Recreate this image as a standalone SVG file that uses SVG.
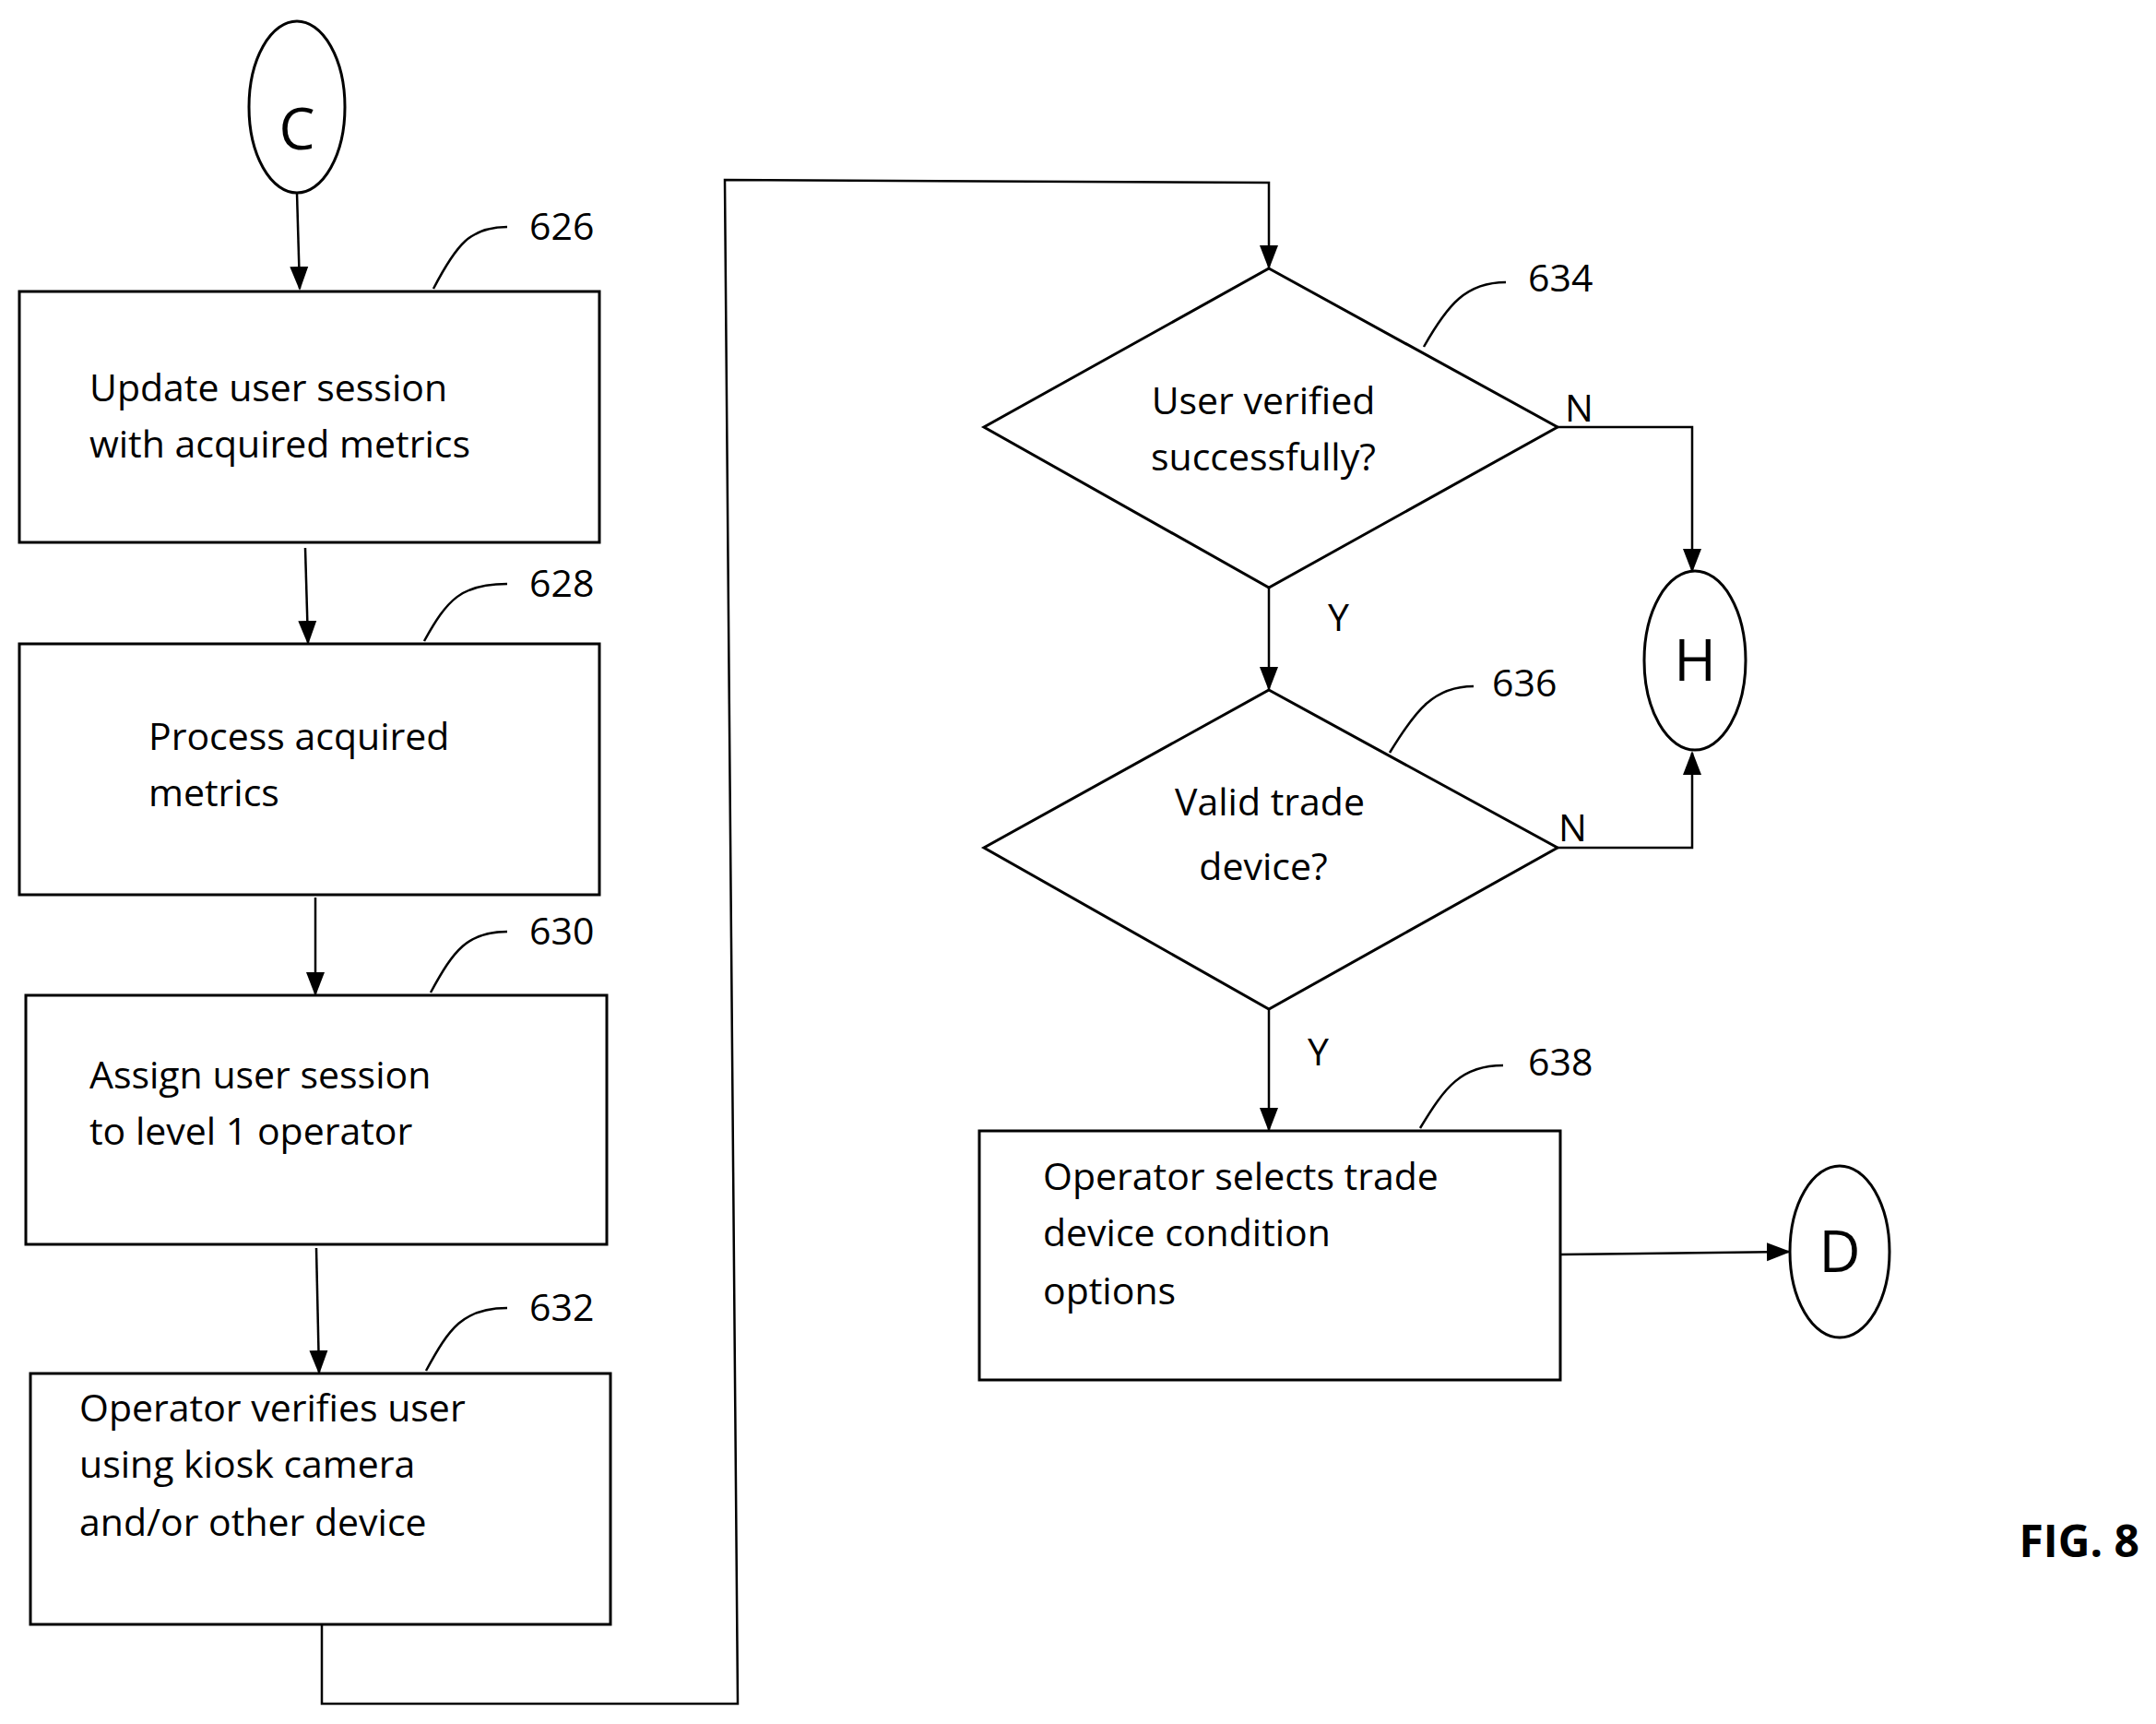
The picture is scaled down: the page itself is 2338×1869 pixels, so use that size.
<svg xmlns="http://www.w3.org/2000/svg" width="2338" height="1869" viewBox="0 0 2338 1869">
<style>
.b{fill:#fff;stroke:#000;stroke-width:3}
.l{fill:none;stroke:#000;stroke-width:2.5}
text{font-family:"Open Sans","Liberation Sans",sans-serif;font-size:41px;fill:#000}
.c{font-size:62px;text-anchor:middle}
.m{text-anchor:middle}
</style>
<defs>
<marker id="ab" markerWidth="26" markerHeight="26" refX="24" refY="13" orient="auto" markerUnits="userSpaceOnUse" viewBox="0 0 26 26"><path d="M0,3L26,13L0,23z" fill="#000"/></marker></defs>
<rect width="2338" height="1869" fill="#fff"/>
<g id="connectors">
<path class="l" d="M322,209L325,313" marker-end="url(#ab)"/>
<path class="l" d="M331,594L334,697" marker-end="url(#ab)"/>
<path class="l" d="M342,973L342,1078" marker-end="url(#ab)"/>
<path class="l" d="M343,1353L346,1488" marker-end="url(#ab)"/>
<path class="l" d="M349,1762L349,1847L800,1847L786,195L1376,198L1376,290" marker-end="url(#ab)"/>
<path class="l" d="M1689,463L1835,463L1835,619" marker-end="url(#ab)"/>
<path class="l" d="M1376,637L1376,747" marker-end="url(#ab)"/>
<path class="l" d="M1689,919L1835,919L1835,816" marker-end="url(#ab)"/>
<path class="l" d="M1376,1094L1376,1225" marker-end="url(#ab)"/>
<path class="l" d="M1692,1360L1940,1357" marker-end="url(#ab)"/>
<text x="1697" y="457">N</text><text x="1690" y="912">N</text>
<text x="1440" y="684">Y</text><text x="1418" y="1155">Y</text>
</g>
<g id="C"><ellipse class="b" cx="322" cy="116" rx="52" ry="93"/><text class="c" x="322" y="162">C</text></g>
<g id="n626"><rect class="b" x="21" y="316" width="629" height="272"/><text x="97" y="435">Update user session</text><text x="97" y="496">with acquired metrics</text>
<path class="l" d="M470,313C495,265 510,246 550,246"/><text x="574" y="260">626</text></g>
<g id="n628"><rect class="b" x="21" y="698" width="629" height="272"/><text x="161" y="813">Process acquired</text><text x="161" y="874">metrics</text>
<path class="l" d="M460,695C485,650 500,633 550,633"/><text x="574" y="647">628</text></g>
<g id="n630"><rect class="b" x="28" y="1079" width="630" height="270"/><text x="97" y="1180">Assign user session</text><text x="97" y="1241">to level 1 operator</text>
<path class="l" d="M467,1076C492,1030 507,1010 550,1010"/><text x="574" y="1024">630</text></g>
<g id="n632"><rect class="b" x="33" y="1489" width="629" height="272"/><text x="86" y="1541">Operator verifies user</text><text x="86" y="1602">using kiosk camera</text><text x="86" y="1665">and/or other device</text>
<path class="l" d="M462,1486C487,1440 502,1418 550,1418"/><text x="574" y="1432">632</text></g>
<g id="n634"><path class="b" d="M1376,291L1689,463L1376,637L1067,463Z"/><text class="m" x="1370" y="449">User verified</text><text class="m" x="1370" y="510">successfully?</text>
<path class="l" d="M1544,376C1570,330 1590,306 1633,306"/><text x="1657" y="316">634</text></g>
<g id="H"><ellipse class="b" cx="1838" cy="716" rx="55" ry="97"/><text class="c" x="1838" y="738">H</text></g>
<g id="n636"><path class="b" d="M1376,748L1689,919L1376,1094L1067,919Z"/><text class="m" x="1377" y="884">Valid trade</text><text class="m" x="1370" y="954">device?</text>
<path class="l" d="M1507,816C1535,770 1555,744 1598,744"/><text x="1618" y="755">636</text></g>
<g id="n638"><rect class="b" x="1062" y="1226" width="630" height="270"/><text x="1131" y="1290">Operator selects trade</text><text x="1131" y="1351">device condition</text><text x="1131" y="1414">options</text>
<path class="l" d="M1540,1223C1567,1178 1585,1155 1630,1155"/><text x="1657" y="1166">638</text></g>
<g id="D"><ellipse class="b" cx="1995" cy="1357" rx="54" ry="93"/><text class="c" x="1995" y="1379">D</text></g>
<text x="2320" y="1688" style="font-weight:bold;font-size:48px;text-anchor:end">FIG. 8</text>
</svg>
